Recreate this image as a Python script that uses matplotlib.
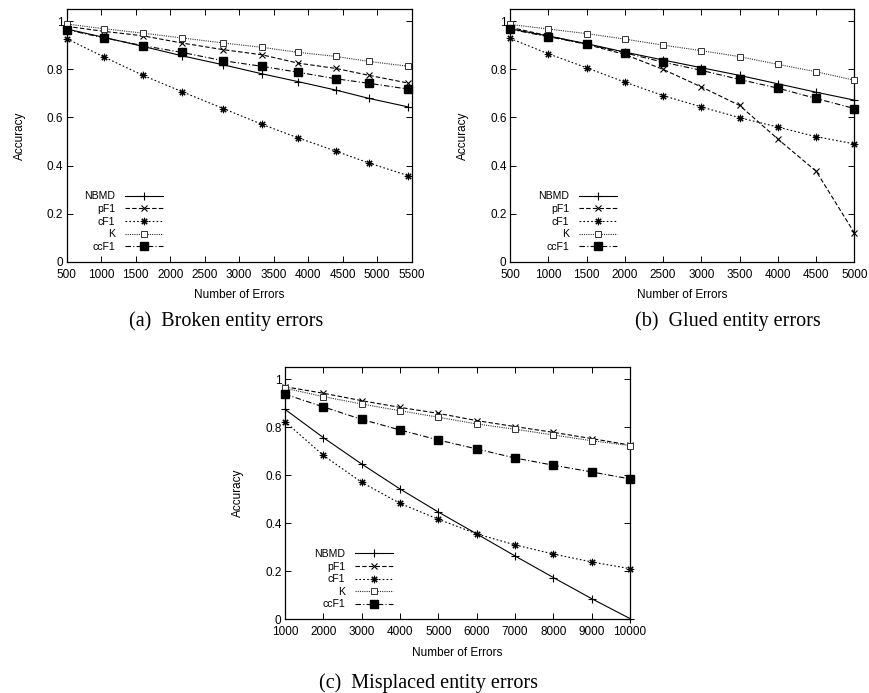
import matplotlib
matplotlib.use("Agg")
import matplotlib.pyplot as plt
from matplotlib.ticker import FixedLocator

plt.rcParams['font.family'] = ['Liberation Sans', 'DejaVu Sans']
plt.rcParams['font.size'] = 8

series_names = ['NBMD', 'pF1', 'cF1', 'K', 'ccF1']

# (a) Broken entity errors
broken_x = [500, 1045, 1600, 2165, 2770, 3325, 3855, 4400, 4885, 5450]
broken_nbmd = [0.968, 0.933, 0.896, 0.857, 0.819, 0.782, 0.749, 0.714, 0.679, 0.644]
broken_pf1 = [0.979, 0.958, 0.940, 0.910, 0.882, 0.861, 0.826, 0.804, 0.775, 0.743]
broken_cf1 = [0.928, 0.851, 0.776, 0.708, 0.637, 0.572, 0.515, 0.460, 0.410, 0.358]
broken_k = [0.989, 0.969, 0.951, 0.931, 0.910, 0.892, 0.871, 0.854, 0.833, 0.813]
broken_ccf1 = [0.965, 0.931, 0.899, 0.871, 0.836, 0.813, 0.788, 0.761, 0.742, 0.718]

# (b) Glued entity errors
glued_x = [500, 1000, 1500, 2000, 2500, 3000, 3500, 4000, 4500, 5000]
glued_nbmd = [0.969, 0.939, 0.907, 0.872, 0.839, 0.807, 0.775, 0.740, 0.705, 0.672]
glued_pf1 = [0.975, 0.940, 0.904, 0.862, 0.800, 0.727, 0.650, 0.510, 0.376, 0.119]
glued_cf1 = [0.929, 0.865, 0.807, 0.747, 0.691, 0.644, 0.599, 0.560, 0.520, 0.490]
glued_k = [0.987, 0.968, 0.949, 0.926, 0.901, 0.878, 0.853, 0.821, 0.790, 0.755]
glued_ccf1 = [0.967, 0.936, 0.905, 0.869, 0.830, 0.796, 0.758, 0.722, 0.679, 0.637]

# (c) Misplaced entity errors
misplaced_x = [1000, 2000, 3000, 4000, 5000, 6000, 7000, 8000, 9000, 10000]
misplaced_nbmd = [0.875, 0.757, 0.647, 0.543, 0.447, 0.356, 0.264, 0.174, 0.086, 0.003]
misplaced_pf1 = [0.969, 0.942, 0.911, 0.883, 0.858, 0.828, 0.803, 0.779, 0.753, 0.726]
misplaced_cf1 = [0.824, 0.683, 0.571, 0.483, 0.417, 0.356, 0.310, 0.272, 0.239, 0.211]
misplaced_k = [0.963, 0.928, 0.897, 0.869, 0.842, 0.814, 0.792, 0.768, 0.744, 0.724]
misplaced_ccf1 = [0.938, 0.885, 0.833, 0.789, 0.747, 0.710, 0.672, 0.642, 0.614, 0.585]

y_ticks = [0, 0.2, 0.4, 0.6, 0.8, 1.0]
y_ticklabels = ['0', '0.2', '0.4', '0.6', '0.8', '1']

styles = {
    'NBMD': dict(linestyle='-', marker='+', markersize=5.5, markeredgewidth=0.8),
    'pF1': dict(linestyle=(0, (4, 2)), marker='x', markersize=4.3, markeredgewidth=0.8),
    'cF1': dict(linestyle=(0, (1.5, 2)), marker=(8, 2, 0), markersize=5.3, markeredgewidth=0.8),
    'K': dict(linestyle=(0, (1, 1)), marker='s', markersize=4.3, markerfacecolor='white',
              markeredgewidth=0.7, color='#333333'),
    'ccF1': dict(linestyle=(0, (5, 2, 1, 2)), marker='s', markersize=5.2),
}

W, H = 870, 693


def px_axes(fig, left, right, top, bottom):
    return fig.add_axes([left / W, 1 - bottom / H, (right - left) / W, (bottom - top) / H])


def draw_panel(ax, xs, ys_list, xlim, xticks, leg_x):
    for name, ys in zip(series_names, ys_list):
        st = dict(color='black', linewidth=0.8)
        st.update(styles[name])
        ax.plot(xs, ys, label=name, clip_on=False, zorder=3, **st)
    ax.set_xlim(*xlim)
    ax.set_ylim(0, 1.05)
    ax.xaxis.set_major_locator(FixedLocator(xticks))
    ax.set_xticklabels([str(t) for t in xticks])
    ax.set_yticks(y_ticks)
    ax.set_yticklabels(y_ticklabels)
    ax.tick_params(direction='in', top=True, right=True, length=4, width=0.7,
                   labelsize=8.5)
    ax.tick_params(axis='x', pad=5)
    ax.tick_params(axis='y', pad=2.5)
    for sp in ax.spines.values():
        sp.set_linewidth(0.9)
    ax.set_xlabel('Number of Errors', fontsize=8.5, labelpad=6)
    ax.set_ylabel('Accuracy', fontsize=8.5, labelpad=15)
    ax.legend(loc='lower left', bbox_to_anchor=(leg_x, 0.018), frameon=False,
              markerfirst=False, handlelength=3.6, handletextpad=0.9,
              labelspacing=0.25, fontsize=7.6, borderpad=0)


fig = plt.figure(figsize=(W / 100, H / 100), dpi=100)

ax_a = px_axes(fig, 66.7, 411.7, 9.3, 261.7)
draw_panel(ax_a, broken_x,
           [broken_nbmd, broken_pf1, broken_cf1, broken_k, broken_ccf1],
           (500, 5500), list(range(500, 5501, 500)), 0.035)

ax_b = px_axes(fig, 510, 854.5, 9.3, 261.7)
draw_panel(ax_b, glued_x,
           [glued_nbmd, glued_pf1, glued_cf1, glued_k, glued_ccf1],
           (500, 5000), list(range(500, 5001, 500)), 0.066)

ax_c = px_axes(fig, 285, 630, 367.3, 619.3)
draw_panel(ax_c, misplaced_x,
           [misplaced_nbmd, misplaced_pf1, misplaced_cf1, misplaced_k, misplaced_ccf1],
           (1000, 10000), list(range(1000, 10001, 1000)), 0.07)

cap = dict(family=['Liberation Serif', 'DejaVu Serif'], fontsize=14.5, ha='center', va='center')
fig.text(226 / W, 1 - 321 / H, '(a)  Broken entity errors', **cap)
fig.text(728 / W, 1 - 321 / H, '(b)  Glued entity errors', **cap)
fig.text(429 / W, 1 - 683 / H, '(c)  Misplaced entity errors', **cap)

fig.savefig('out.png', dpi=100)
